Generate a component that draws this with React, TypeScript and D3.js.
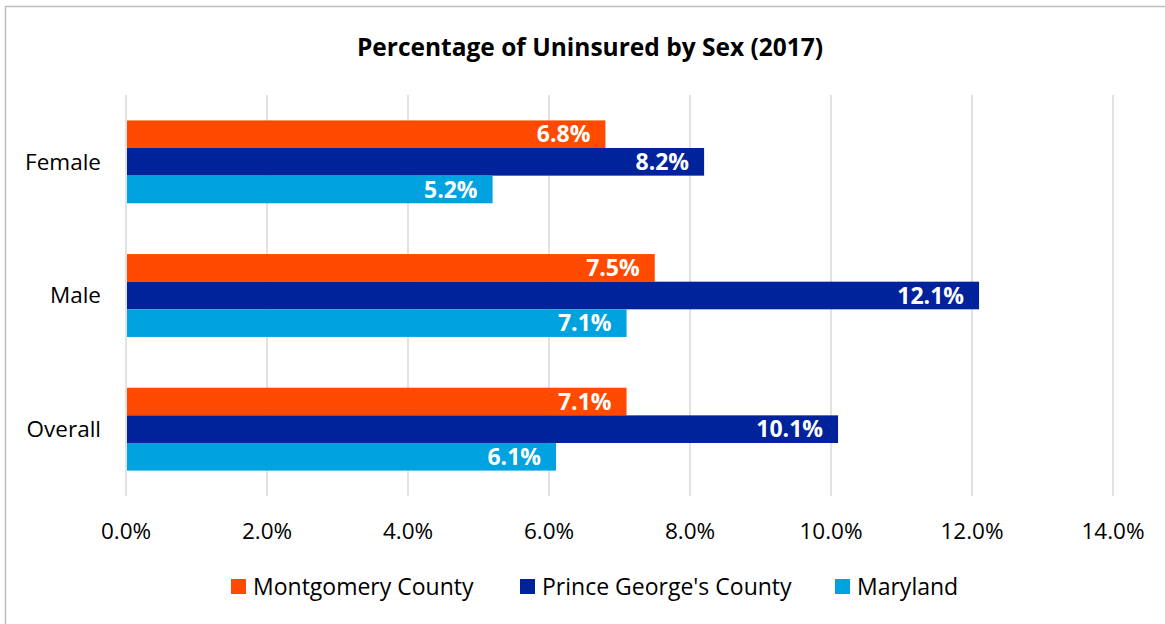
import React, { useEffect, useRef } from "react";
import * as d3 from "d3";

const categories = ["Female", "Male", "Overall"];
const seriesNames = ["Montgomery County", "Prince George's County", "Maryland"];
const montgomery = [6.8, 7.5, 7.1];
const princeGeorges = [8.2, 12.1, 10.1];
const maryland = [5.2, 7.1, 6.1];
const xTicks = [0, 2, 4, 6, 8, 10, 12, 14];
const colors = ["#FF4A00", "#00239C", "#00A3E0"];

const FONT = "'Open Sans', 'Liberation Sans', sans-serif";

const App = () => {
  const svgRef = useRef<SVGSVGElement>(null);

  useEffect(() => {
    const width = 1165;
    const height = 624;
    const margin = { left: 126, right: 52, top: 95, bottom: 128 };
    const svg = d3.select(svgRef.current);
    svg.selectAll("*").remove();

    // border
    svg
      .append("rect")
      .attr("x", 5.5)
      .attr("y", 6.5)
      .attr("width", width + 10)
      .attr("height", height + 10)
      .attr("fill", "white")
      .attr("stroke", "#bfbfbf")
      .attr("stroke-width", 1.5);

    svg
      .append("text")
      .attr("x", 590)
      .attr("y", 56)
      .attr("text-anchor", "middle")
      .attr("font-family", FONT)
      .attr("font-weight", "bold")
      .attr("font-size", 24.5)
      .attr("fill", "#000")
      .text("Percentage of Uninsured by Sex (2017)");

    const x = d3
      .scaleLinear()
      .domain([0, 14])
      .range([margin.left, width - margin.right]);

    const y = d3
      .scaleBand()
      .domain(categories)
      .range([margin.top, height - margin.bottom])
      .paddingInner(0.38)
      .paddingOuter(0.19);

    const ySub = d3
      .scaleBand()
      .domain(seriesNames)
      .range([0, y.bandwidth()]);

    // gridlines
    svg
      .append("g")
      .selectAll("line")
      .data(xTicks)
      .enter()
      .append("line")
      .attr("x1", (d) => x(d))
      .attr("x2", (d) => x(d))
      .attr("y1", margin.top)
      .attr("y2", height - margin.bottom)
      .attr("stroke", "#d9d9d9")
      .attr("stroke-width", 1.5);

    // tick labels
    svg
      .append("g")
      .selectAll("text")
      .data(xTicks)
      .enter()
      .append("text")
      .attr("x", (d) => x(d))
      .attr("y", 539)
      .attr("text-anchor", "middle")
      .attr("font-family", FONT)
      .attr("font-size", 22.5)
      .attr("fill", "#000")
      .text((d) => d.toFixed(1) + "%");

    // category labels
    svg
      .append("g")
      .selectAll("text")
      .data(categories)
      .enter()
      .append("text")
      .attr("x", 101)
      .attr("y", (d) => (y(d) as number) + y.bandwidth() / 2)
      .attr("dy", "0.35em")
      .attr("text-anchor", "end")
      .attr("font-family", FONT)
      .attr("font-size", 22.5)
      .attr("fill", "#000")
      .text((d) => d);

    const allSeries = [montgomery, princeGeorges, maryland];

    allSeries.forEach((values, si) => {
      const g = svg.append("g");
      const rows = categories.map((c, i) => ({ cat: c, v: values[i] }));
      g.selectAll("rect")
        .data(rows)
        .enter()
        .append("rect")
        .attr("x", x(0) + 1)
        .attr("y", (d) => (y(d.cat) as number) + (ySub(seriesNames[si]) as number))
        .attr("width", (d) => x(d.v) - x(0) - 1)
        .attr("height", ySub.bandwidth())
        .attr("fill", colors[si]);

      g.selectAll("text")
        .data(rows)
        .enter()
        .append("text")
        .attr("x", (d) => x(d.v) - 15)
        .attr(
          "y",
          (d) =>
            (y(d.cat) as number) +
            (ySub(seriesNames[si]) as number) +
            ySub.bandwidth() / 2
        )
        .attr("dy", "0.36em")
        .attr("text-anchor", "end")
        .attr("font-family", FONT)
        .attr("font-weight", "bold")
        .attr("font-size", 23)
        .attr("fill", "#fff")
        .text((d) => d.v.toFixed(1) + "%");
    });

    // legend
    const legendX = [231, 520, 835];
    const legend = svg
      .append("g")
      .selectAll("g")
      .data(seriesNames)
      .enter()
      .append("g")
      .attr("transform", (d, i) => `translate(${legendX[i]}, 579)`);

    legend
      .append("rect")
      .attr("width", 15)
      .attr("height", 15)
      .attr("fill", (d, i) => colors[i]);

    legend
      .append("text")
      .attr("x", 22)
      .attr("y", 8)
      .attr("dy", "0.36em")
      .attr("font-family", FONT)
      .attr("font-size", 23)
      .attr("fill", "#000")
      .text((d) => d);
  }, []);

  return (
    <svg
      ref={svgRef}
      width={1165}
      height={624}
      style={{ position: "absolute", left: 0, top: 0, display: "block" }}
    />
  );
};

export default App;
